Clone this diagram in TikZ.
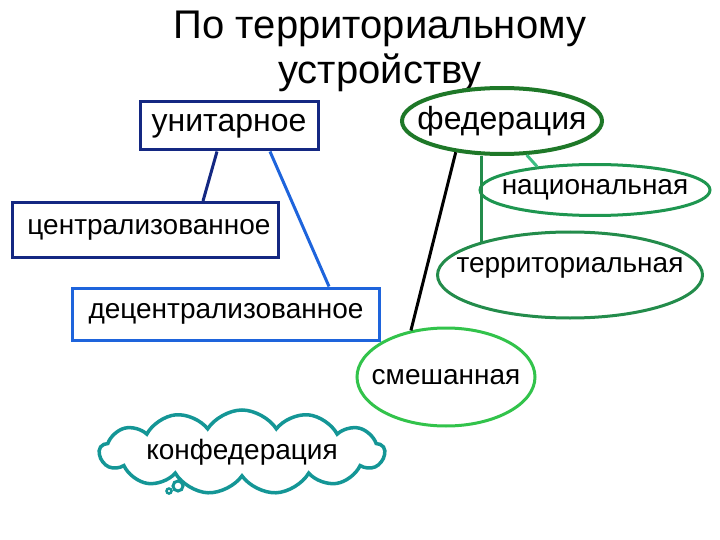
\documentclass[tikz,border=0pt]{standalone}
\usepackage{fontspec}
\setmainfont{Liberation Sans}
\usetikzlibrary{shapes.geometric,shapes.symbols}

\definecolor{unitnavy}{RGB}{20,40,130}
\definecolor{decblue}{RGB}{30,100,220}
\definecolor{feddark}{RGB}{30,120,40}
\definecolor{natgreen}{RGB}{30,150,80}
\definecolor{terrgreen}{RGB}{35,140,75}
\definecolor{mixgreen}{RGB}{50,195,75}
\definecolor{natlink}{RGB}{60,190,130}
\definecolor{cloudteal}{RGB}{20,150,150}

\tikzset{
	txt/.style={font=\fontsize{28}{30}\selectfont},
	bigtxt/.style={font=\fontsize{32}{34}\selectfont},
	box/.style={draw, line width=3pt, inner sep=0pt, txt},
	oval/.style={ellipse, draw, line width=3pt, inner sep=0pt, label={[txt]center:#1}},
	link/.style={line width=3pt},
}

\begin{document}
\begin{tikzpicture}[x=1pt,y=-1pt]
	\useasboundingbox (0,0) rectangle (720,540);

	\node[align=center, font=\fontsize{40}{45}\selectfont] (title) at (380,51) {По территориальному\\устройству};

	% unitary side
	\node[box, bigtxt, draw=unitnavy, minimum width=178, minimum height=48] (unit) at (229,126) {\raisebox{-3pt}{унитарное}};
	\node[box, draw=unitnavy, minimum width=266, minimum height=55] (centr) at (145,230) {\hspace*{8pt}централизованное};
	\node[box, draw=decblue, minimum width=307, minimum height=52] (decentr) at (226,314) {децентрализованное};

	\draw[link, unitnavy] ([xshift=-12pt]unit.south) -- ([xshift=58pt]centr.north);
	\draw[link, decblue] ([xshift=41pt]unit.south) -- ([xshift=103pt]decentr.north);

	% federal side
	\node[ellipse, draw=feddark, line width=4pt, inner sep=0pt, minimum width=200, minimum height=66,
		label={[bigtxt]center:федерация}] (fed) at (502,121) {};
	\node[oval=национальная, draw=natgreen, minimum width=230, minimum height=51] (nat) at (595,190) {};
	\node[ellipse, draw=terrgreen, line width=3pt, inner sep=0pt, minimum width=265, minimum height=86,
		label={[txt, yshift=7pt]center:территориальная}] (terr) at (570,275) {};
	\node[oval=смешанная, draw=mixgreen, minimum width=178, minimum height=98] (mix) at (446,377) {};

	\draw[link, natlink] (fed.306) -- (nat.158);
	\draw[link, terrgreen] ([xshift=-21pt]fed.south) -- ([xshift=-21pt]fed.south |- terr.160);
	\draw[link, black] (fed.214) -- (mix.127);

	% confederation
	\node[cloud, cloud puffs=13, cloud puff arc=115, cloud ignores aspect, draw=cloudteal, line width=3.5pt,
		minimum width=285, minimum height=84, label={[txt]center:конфедерация}] (conf) at (242,452) {};
	\draw[cloudteal, line width=3pt] (178,486) circle (5);
	\draw[cloudteal, line width=2.5pt] (169,491) circle (2.5);
\end{tikzpicture}
\end{document}
